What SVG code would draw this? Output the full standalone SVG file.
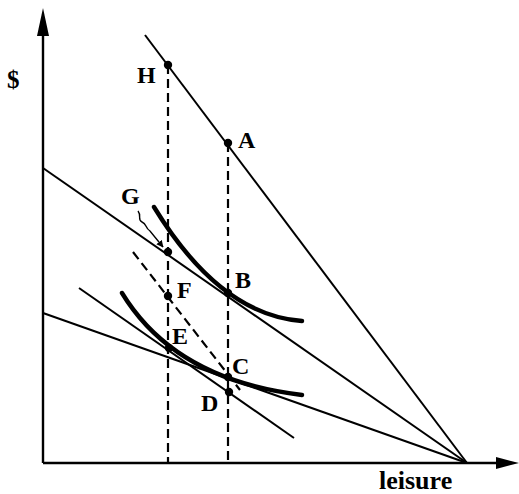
<svg xmlns="http://www.w3.org/2000/svg" width="519" height="494" viewBox="0 0 519 494">
<defs>
<style>
.ax{stroke:#000;stroke-width:2.4;fill:none}
.ln{stroke:#000;stroke-width:2;fill:none}
.ic{stroke:#000;stroke-width:4.4;fill:none;stroke-linecap:round}
.ds{stroke:#000;stroke-width:2.2;fill:none;stroke-dasharray:9,5}
.pt{fill:#000}
.lb{font-family:"Liberation Serif",serif;font-weight:bold;font-size:24px;fill:#000}
</style>
<marker id="sq" viewBox="0 0 10 10" refX="9" refY="5" markerWidth="7" markerHeight="7" orient="auto" markerUnits="userSpaceOnUse">
<path d="M0,0 L10,5 L0,10 z" fill="#000"/>
</marker>
</defs>
<rect width="519" height="494" fill="#fff"/>
<g id="axes">
<line class="ax" x1="43" y1="463" x2="43" y2="30"/>
<path d="M43,8 L49,36 L37,36 z" fill="#000"/>
<line class="ax" x1="43" y1="463" x2="500" y2="463"/>
<path d="M519,463 L496,457 L496,469 z" fill="#000"/>
<text class="lb" x="7" y="88" style="font-size:25px">$</text>
<text class="lb" x="379" y="489" style="font-size:26px">leisure</text>
</g>
<g id="connectors">
<line class="ln" x1="145" y1="35" x2="467" y2="463"/>
<line class="ln" x1="43" y1="168" x2="467" y2="463"/>
<line class="ln" x1="43" y1="313" x2="467" y2="463"/>
<line class="ln" x1="79" y1="288" x2="294" y2="438"/>
<line class="ds" x1="168" y1="65" x2="168" y2="463"/>
<line class="ds" x1="228" y1="143" x2="228" y2="463"/>
<line class="ds" x1="133" y1="252" x2="240" y2="390"/>
<path class="ic" d="M154,207 Q220,315 302,321"/>
<path class="ic" d="M122,293 Q175,380 302,395"/>
<path class="ln" style="stroke-width:1.4" d="M138,211 C142,216 137,220 142,222 C147,224 145,228 150,231 L163,247" marker-end="url(#sq)"/>
</g>
<g id="H"><circle class="pt" cx="168" cy="65" r="4.2"/><text class="lb" x="137" y="83">H</text></g>
<g id="A"><circle class="pt" cx="228" cy="143" r="4.2"/><text class="lb" x="238" y="148">A</text></g>
<g id="G"><circle class="pt" cx="168" cy="252" r="4.2"/><text class="lb" x="121" y="204">G</text></g>
<g id="B"><circle class="pt" cx="228" cy="293" r="4.2"/><text class="lb" x="235" y="288">B</text></g>
<g id="F"><circle class="pt" cx="168" cy="296" r="4.2"/><text class="lb" x="177" y="298">F</text></g>
<g id="E"><circle class="pt" cx="169" cy="348" r="4.2"/><text class="lb" x="172" y="344">E</text></g>
<g id="C"><circle class="pt" cx="228" cy="377" r="4.2"/><text class="lb" x="232" y="374">C</text></g>
<g id="D"><circle class="pt" cx="229" cy="392" r="4.2"/><text class="lb" x="201" y="411">D</text></g>
</svg>
